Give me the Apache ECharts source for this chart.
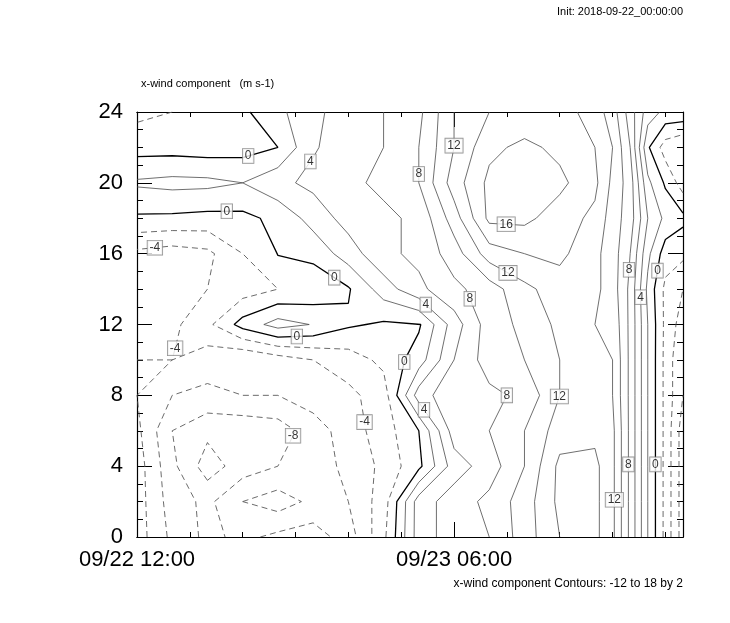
<!DOCTYPE html>
<html><head><meta charset="utf-8">
<script src="https://cdn.jsdelivr.net/npm/echarts@6/dist/echarts.min.js"></script>
<style>html,body{margin:0;padding:0;background:#fff}#c{width:730px;height:623px}</style>
</head><body><div id="c"></div>
<script>
// ---------------- data ----------------
// time axis: hours since 09/22 12:00
const hours = [0,2,4,6,8,10,12,14,16,18,20,22,24,26,27,28,29,30,31];
// vertical coordinate
const heights = [0,2,4,6,8,10,12,14,16,18,20,22,24];
// x-wind component (m s-1); one row per height, one value per hour column
const uRow0  = [-3,-6.5,-8.5,-7.5,-8.5,-9,-7,-2.5,5,7,8,11,14,14.5,12.5,7.5,2,-2.6,-7];
const uRow2  = [-3,-7,-8.5,-6,-5,-6.5,-6,-3,5,7,8.5,11,14.5,14.5,12.5,7.5,2,-2.6,-7];
const uRow4  = [-3,-7.5,-11,-9,-8,-7,-5.5,-3.5,-0.5,5,7,10,14.5,14.5,12.5,7.5,2,-2.6,-7];
const uRow6  = [-3.5,-8,-9.5,-9.5,-9,-7,-5,-3,0,7,8,10,13,13.5,12.5,7.5,2,-2.6,-7];
const uRow8  = [-4,-6,-6.5,-6,-6,-5,-4.5,-3,5,7.5,7.5,8.5,12,12.5,12,7.5,2,-2.6,-6];
const uRow10 = [-4,-4,-5,-6,-5,-4,-3,-1.5,1,6,9,10,12,12.5,12,7.5,2,-2.6,-6];
const uRow12 = [-5,-4.5,-2.5,0.8,2.8,1.9,0.3,-0.3,-0.3,5,9,10.5,12.5,12,11.5,7.5,2,-2.5,-5];
const uRow14 = [-5,-5,-4,-3,-2,-1.5,-0.2,3,5.5,7.5,9,11.5,13,12.5,11,7.5,1.5,-2.5,-4];
const uRow16 = [-4.5,-5,-4.5,-2,0.1,0.6,3,5.5,6.5,9,13,14,14.5,12.5,11,8,2.5,-1,-1.5];
const uRow18 = [-0.3,-0.4,-0.6,-0.5,0.5,2.8,4.8,5.5,6.5,11,16.5,16.5,15,13.5,11,9,4,1.5,0.5];
const uRow20 = [2.3,2.6,2.5,2,3.5,4.5,5.5,6.5,8,13,16.5,17,16.5,14.5,11.5,9,2.5,-0.3,-3];
const uRow22 = [-0.8,-0.8,-1,-0.8,0,3.8,5,6,8,12,15.5,16.5,15.5,14,12,8,0.3,-3,-4];
const uRow24 = [-2.5,-2,-1.5,-0.4,1.5,3.5,5,6,7.5,12,14,14.5,15,13,11,7,3,1.5,1.5];
const uwind = [uRow0,uRow2,uRow4,uRow6,uRow8,uRow10,uRow12,uRow14,uRow16,uRow18,uRow20,uRow22,uRow24];

const contourLevels = [-12,-10,-8,-6,-4,-2,0,2,4,6,8,10,12,14,16,18];
const xTickValues = [0,18];
const xTickLabels = ['09/22 12:00','09/23 06:00'];
const yTickValues = [0,4,8,12,16,20,24];
const yTickLabels = ['0','4','8','12','16','20','24'];
// contour label anchors: [level, hour, height]
const labelHints = [
  [0,6.0,22.6],[4,10,21.1],[12,17.9,22.1],[8,16.1,20.5],[0,5.1,18.35],[16,21,18.35],
  [-4,1.0,16.5],[0,11.5,15.1],[12,21,14.8],[8,27.8,15.1],[0,29.2,15.1],[8,19,13.5],
  [4,29,13.55],[4,16.1,12.8],[-4,2,10.7],[0,9.1,10.7],[0,15.1,9.9],[8,21.4,8],
  [12,25,7.6],[4,16.1,7.05],[-4,13,6.5],[-8,9.1,5.6],[8,27.9,4.1],[0,29.3,4.1],[12,27.2,2.1]
];

// ---------------- contouring (marching squares) ----------------
function contourLines(xs, ys, z, L) {
  const pts = {}, adj = {};
  const nx = xs.length, ny = ys.length;
  function interp(i1,j1,i2,j2){
    const a = z[j1][i1], b = z[j2][i2];
    const t = (L - a) / (b - a);
    return [xs[i1] + t*(xs[i2]-xs[i1]), ys[j1] + t*(ys[j2]-ys[j1])];
  }
  function addSeg(ka, kb){
    (adj[ka] = adj[ka] || []).push(kb);
    (adj[kb] = adj[kb] || []).push(ka);
  }
  for (let j = 0; j < ny-1; j++) {
    for (let i = 0; i < nx-1; i++) {
      const v = [z[j][i], z[j][i+1], z[j+1][i+1], z[j+1][i]];
      const s = v.map(a => a >= L ? 1 : 0);
      const e = [
        ['h'+i+','+j, [i,j,i+1,j]],
        ['v'+(i+1)+','+j, [i+1,j,i+1,j+1]],
        ['h'+i+','+(j+1), [i,j+1,i+1,j+1]],
        ['v'+i+','+j, [i,j,i,j+1]]
      ];
      const cross = [s[0]!==s[1], s[1]!==s[2], s[2]!==s[3], s[3]!==s[0]];
      const idx = [];
      for (let k = 0; k < 4; k++) if (cross[k]) {
        idx.push(k);
        if (!pts[e[k][0]]) { const q = e[k][1]; pts[e[k][0]] = interp(q[0],q[1],q[2],q[3]); }
      }
      if (idx.length === 2) addSeg(e[idx[0]][0], e[idx[1]][0]);
      else if (idx.length === 4) {
        const c = (v[0]+v[1]+v[2]+v[3])/4 >= L ? 1 : 0;
        if (c === s[0]) { addSeg(e[0][0], e[1][0]); addSeg(e[2][0], e[3][0]); }
        else { addSeg(e[0][0], e[3][0]); addSeg(e[1][0], e[2][0]); }
      }
    }
  }
  const used = {};
  const lines = [];
  function walk(start){
    const line = [start];
    used[start] = true;
    let cur = start;
    while (true) {
      const nb = (adj[cur] || []).filter(k => !used[k]);
      if (!nb.length) {
        if ((adj[cur]||[]).indexOf(start) >= 0 && line.length > 2) line.push(start);
        break;
      }
      cur = nb[0]; used[cur] = true; line.push(cur);
    }
    return line.map(k => pts[k]);
  }
  Object.keys(adj).forEach(k => { if (!used[k] && adj[k].length === 1) lines.push(walk(k)); });
  Object.keys(adj).forEach(k => { if (!used[k]) lines.push(walk(k)); });
  return lines;
}

const PX_X = 546/31, PX_Y = 425/24;
const series = [];
const allLines = {};
contourLevels.forEach(L => {
  const lines = contourLines(hours, heights, uwind, L);
  allLines[L] = lines;
  const ls = L < 0 ? {color:'#5a5a5a', width:0.9, type:[6,4]} :
             L === 0 ? {color:'#000', width:1.3, type:'solid'} :
                       {color:'#4a4a4a', width:0.8, type:'solid'};
  lines.forEach(pl => {
    series.push({type:'line', data: pl, xAxisIndex:0, yAxisIndex:0, symbol:'none',
      silent:true, animation:false, clip:true, lineStyle: ls, z:2});
  });
});

// snap label anchors to the nearest point on the computed contour line
const labelData = [];
labelHints.forEach(([L,h,y]) => {
  let best = null, bd = Infinity;
  (allLines[L] || []).forEach(pl => {
    for (let k = 0; k < pl.length-1; k++) {
      const ax = pl[k][0]*PX_X, ay = pl[k][1]*PX_Y, bx = pl[k+1][0]*PX_X, by = pl[k+1][1]*PX_Y;
      const px = h*PX_X, py = y*PX_Y;
      const dx = bx-ax, dy = by-ay;
      let t = ((px-ax)*dx + (py-ay)*dy) / (dx*dx+dy*dy || 1);
      t = Math.max(0, Math.min(1, t));
      const qx = ax+t*dx, qy = ay+t*dy;
      const d = (qx-px)*(qx-px)+(qy-py)*(qy-py);
      if (d < bd) { bd = d; best = [qx/PX_X, qy/PX_Y]; }
    }
  });
  if (best && bd < 40*40) labelData.push([best[0], best[1], L]);
});
series.push({
  type:'scatter', data: labelData, xAxisIndex:0, yAxisIndex:0, symbolSize:2, silent:true,
  animation:false, z:10, itemStyle:{color:'rgba(0,0,0,0)'},
  label:{show:true, position:'inside', formatter: p => String(p.value[2]),
    color:'#000', fontSize:12, fontFamily:'Liberation Sans, Arial, sans-serif',
    backgroundColor:'#fff', borderColor:'#777', borderWidth:0.8, padding:[1,2,1,2], lineHeight:12}
});

const FONT = 'Liberation Sans, Arial, Helvetica, sans-serif';
const axisLine = {show:true, onZero:false, lineStyle:{color:'#000', width:1.2}};
const xBase = {type:'value', min:0, max:31, gridIndex:0, splitLine:{show:false}, axisLine};
const yBase = {type:'value', min:0, max:24, gridIndex:0, splitLine:{show:false}, axisLine};

const option = {
  backgroundColor:'#fff',
  animation:false,
  grid:{left:137, top:112, width:546, height:425, containLabel:false, outerBoundsMode:'none'},
  xAxis:[
    Object.assign({}, xBase, {position:'bottom', interval:3,
      axisTick:{show:true, inside:true, length:5, lineStyle:{color:'#000', width:1}},
      axisLabel:{show:false}}),
    Object.assign({}, xBase, {position:'bottom', interval:18,
      axisTick:{show:true, inside:true, length:15, lineStyle:{color:'#000', width:1}},
      axisLabel:{show:true, margin:12, fontSize:22, color:'#000', fontFamily:FONT, showMaxLabel:false,
        formatter: v => { const i = xTickValues.indexOf(v); return i >= 0 ? xTickLabels[i] : ''; }}}),
    Object.assign({}, xBase, {position:'top', interval:3,
      axisTick:{show:true, inside:true, length:5, lineStyle:{color:'#000', width:1}},
      axisLabel:{show:false}}),
    Object.assign({}, xBase, {position:'top', interval:18,
      axisTick:{show:true, inside:true, length:15, lineStyle:{color:'#000', width:1}},
      axisLabel:{show:false}})
  ],
  yAxis:[
    Object.assign({}, yBase, {position:'left', interval:4,
      axisTick:{show:true, inside:true, length:15, lineStyle:{color:'#000', width:1}},
      minorTick:{show:true, splitNumber:4, length:6, lineStyle:{color:'#000', width:1}},
      axisLabel:{show:true, margin:14, fontSize:22, color:'#000', fontFamily:FONT,
        formatter: v => { const i = yTickValues.indexOf(v); return i >= 0 ? yTickLabels[i] : ''; }}}),
    Object.assign({}, yBase, {position:'right', interval:4,
      axisTick:{show:true, inside:true, length:15, lineStyle:{color:'#000', width:1}},
      minorTick:{show:true, splitNumber:4, length:6, lineStyle:{color:'#000', width:1}},
      axisLabel:{show:false}})
  ],
  graphic:[
    {type:'text', left:141, top:78, style:{text:'x-wind component   (m s-1)', font:'11px '+FONT, fill:'#000'}},
    {type:'text', right:47, top:6, style:{text:'Init: 2018-09-22_00:00:00', font:'11px '+FONT, fill:'#000'}},
    {type:'text', right:47, top:578, style:{text:'x-wind component Contours: -12 to 18 by 2', font:'12px '+FONT, fill:'#000'}}
  ],
  series
};
const chart = echarts.init(document.getElementById('c'), null, {renderer:'canvas', width:730, height:623});
chart.setOption(option);
</script>
</body></html>
